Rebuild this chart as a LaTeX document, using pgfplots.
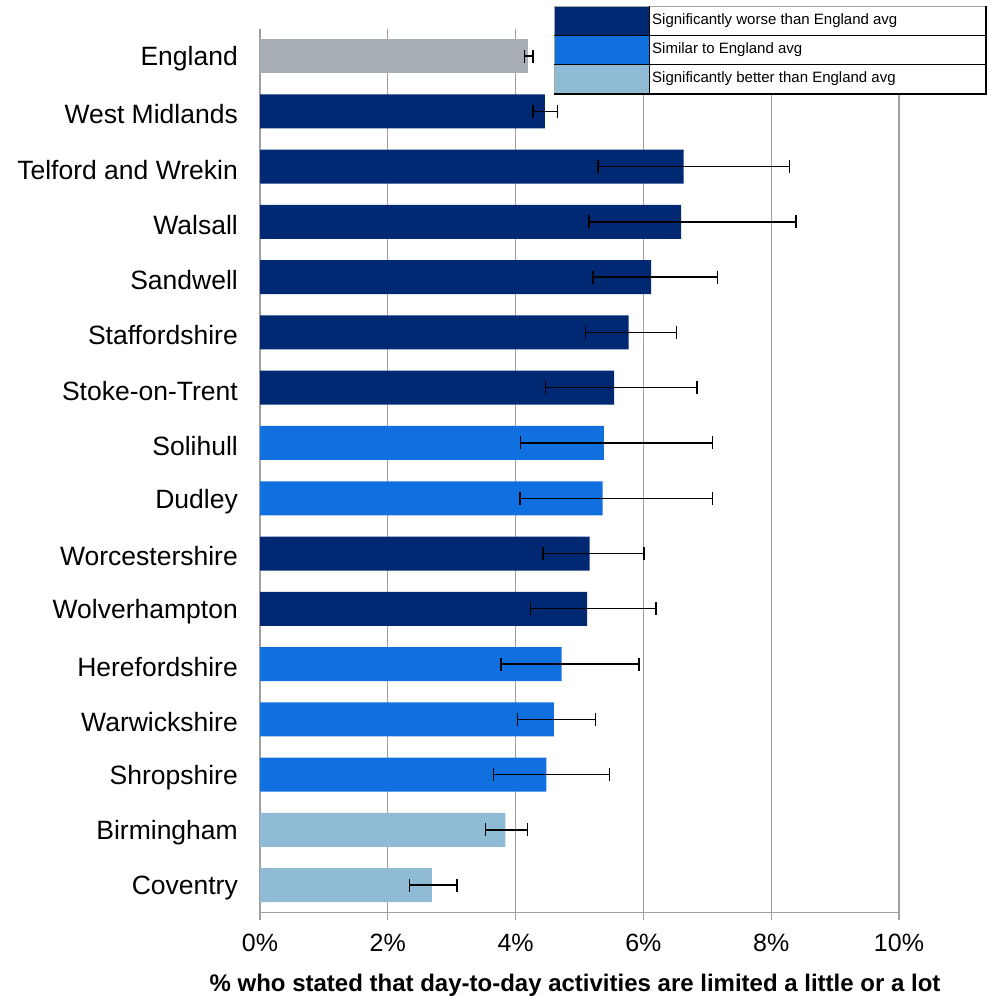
\documentclass[border=0pt]{standalone}
\usepackage{fontspec}
\setmainfont{Liberation Sans}
\usepackage{pgfplots}
\pgfplotsset{compat=1.18}
\usepackage{pgfplotstable}

\definecolor{worse}{RGB}{0,40,115}
\definecolor{similar}{RGB}{17,112,224}
\definecolor{better}{RGB}{143,188,212}
\definecolor{engl}{RGB}{166,174,180}
\definecolor{gridgray}{RGB}{160,160,160}

% pos = row from the top, val = %, lo/hi = confidence limits
\pgfplotstableread{
pos val lo hi
0 4.20 4.14 4.27
}\england
\pgfplotstableread{
pos val lo hi
1 4.46 4.27 4.66
2 6.63 5.29 8.29
3 6.59 5.15 8.39
4 6.12 5.21 7.16
5 5.77 5.09 6.52
6 5.54 4.47 6.84
9 5.16 4.43 6.01
10 5.12 4.23 6.20
}\worsetab
\pgfplotstableread{
pos val lo hi
7 5.38 4.08 7.08
8 5.36 4.07 7.08
11 4.72 3.77 5.93
12 4.60 4.03 5.25
13 4.48 3.65 5.47
}\similartab
\pgfplotstableread{
pos val lo hi
14 3.84 3.53 4.19
15 2.69 2.34 3.08
}\bettertab

\newcommand\labfont{\fontsize{26.5}{31}\selectfont}
\newcommand\tickfont{\fontsize{25}{30}\selectfont}

\begin{document}
\begin{tikzpicture}
\useasboundingbox (0,0) rectangle (987pt,-996pt);
\begin{axis}[
  scale only axis,
  width=639pt, height=884.2pt,
  at={(260pt,-912.7pt)}, anchor=south west,
  xmin=0, xmax=10, ymin=-0.5, ymax=15.5,
  y dir=reverse,
  axis lines*=left,
  axis line style={gridgray, line width=1.2pt},
  xtick={0,2,...,10},
  xticklabel={\pgfmathprintnumber{\tick}\%},
  /pgf/number format/assume math mode=true,
  ytick={0,...,15},
  yticklabels={England,West Midlands,Telford and Wrekin,Walsall,Sandwell,Staffordshire,Stoke-on-Trent,Solihull,Dudley,Worcestershire,Wolverhampton,Herefordshire,Warwickshire,Shropshire,Birmingham,Coventry},
  minor ytick={-0.5,0.5,...,15.5},
  ytick style={draw=none},
  minor tick style={gridgray, line width=1.2pt},
  xtick style={gridgray, line width=1.2pt},
  tick align=outside,
  major tick length=7pt,
  minor tick length=8pt,
  xmajorgrids,
  grid style={gridgray, line width=1.2pt},
  xticklabel style={font=\tickfont, inner sep=0pt, yshift=-14pt},
  yticklabel style={font=\labfont, inner sep=0pt, xshift=-15pt, yshift=-3pt},
  xlabel={\fontsize{24}{28}\selectfont\bfseries \% who stated that day-to-day activities are limited a little or a lot},
  xlabel style={at={(axis description cs:0.493,0)}, anchor=center, yshift=-73pt},
  xbar, bar shift=0pt, bar width=34pt,
  every axis plot/.append style={draw=none},
  error bars/x dir=both,
  error bars/x explicit,
  error bars/error bar style={black, line width=1.4pt},
  error bars/error mark options={black, line width=1.4pt, mark size=6.5pt, rotate=90},
]
\addplot[fill=engl] table[x=val, y=pos, x error plus expr=\thisrow{hi}-\thisrow{val}, x error minus expr=\thisrow{val}-\thisrow{lo}] {\england};
\addplot[fill=worse] table[x=val, y=pos, x error plus expr=\thisrow{hi}-\thisrow{val}, x error minus expr=\thisrow{val}-\thisrow{lo}] {\worsetab};
\addplot[fill=similar] table[x=val, y=pos, x error plus expr=\thisrow{hi}-\thisrow{val}, x error minus expr=\thisrow{val}-\thisrow{lo}] {\similartab};
\addplot[fill=better] table[x=val, y=pos, x error plus expr=\thisrow{hi}-\thisrow{val}, x error minus expr=\thisrow{val}-\thisrow{lo}] {\bettertab};
\end{axis}
% key table, top right
\fill[white] (554pt,-6pt) rectangle (987pt,-94pt);
\fill[worse] (554pt,-6pt) rectangle (649pt,-35pt);
\fill[similar] (554pt,-35pt) rectangle (649pt,-64.5pt);
\fill[better] (554pt,-64.5pt) rectangle (649pt,-94pt);
\draw[gray!70, line width=0.8pt] (554pt,-94pt) -- (554pt,-6pt) -- (987pt,-6pt);
\draw[black, line width=0.8pt] (554pt,-35pt) -- (987pt,-35pt) (554pt,-64.5pt) -- (987pt,-64.5pt) (649pt,-6pt) -- (649pt,-94pt);
\draw[black, line width=2.4pt] (554pt,-94pt) -- (987pt,-94pt);
\draw[black, line width=2.4pt] (985.8pt,-6pt) -- (985.8pt,-94pt);
\begin{scope}[every node/.style={anchor=west, inner sep=0pt, font=\fontsize{15}{18}\selectfont}]
\node at (652pt,-20.5pt) {Significantly worse than England avg};
\node at (652pt,-49.5pt) {Similar to England avg};
\node at (652pt,-79pt) {Significantly better than England avg};
\end{scope}
\end{tikzpicture}
\end{document}
